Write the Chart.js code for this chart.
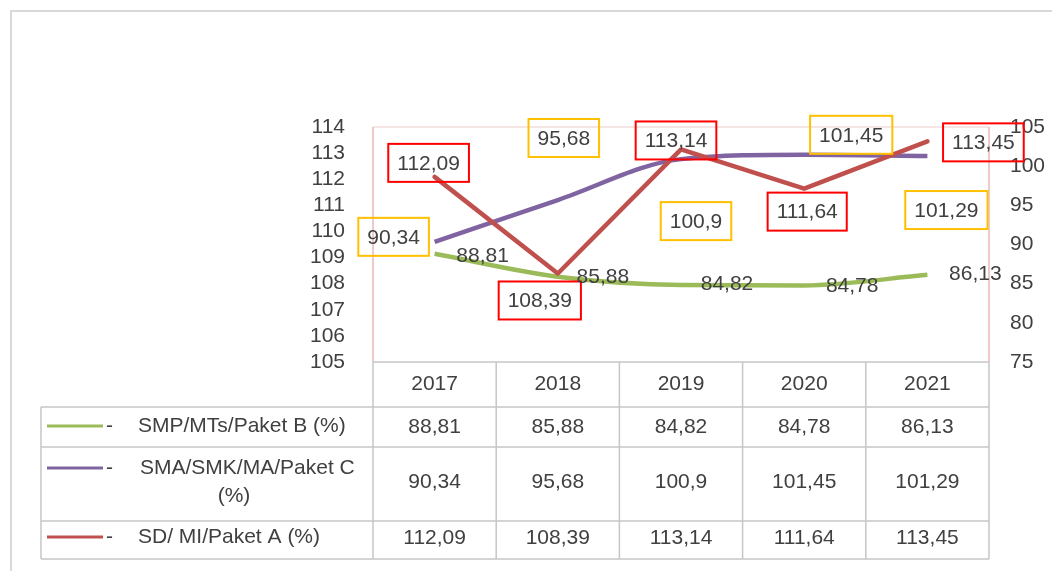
<!DOCTYPE html>
<html>
<head>
<meta charset="utf-8">
<script src="https://cdn.jsdelivr.net/npm/chart.js@4.4.0/dist/chart.umd.min.js"></script>
<style>
  html, body { margin: 0; padding: 0; background: #ffffff; }
  #wrap { width: 1052px; height: 571px; position: relative; }
</style>
</head>
<body>
<div id="wrap"><canvas id="c" width="1052" height="571"></canvas></div>
<script>
// ---- data ----
const years = ['2017', '2018', '2019', '2020', '2021'];
const smpValues = [88.81, 85.88, 84.82, 84.78, 86.13];      // SMP/MTs/Paket B (%)  - right axis
const smaValues = [90.34, 95.68, 100.9, 101.45, 101.29];    // SMA/SMK/MA/Paket C (%) - right axis
const sdValues  = [112.09, 108.39, 113.14, 111.64, 113.45]; // SD/MI/Paket A (%)  - left axis
const smpLabel = 'SMP/MTs/Paket B (%)';
const smaLabel = ['SMA/SMK/MA/Paket C', '(%)'];
const sdLabel  = 'SD/ MI/Paket A (%)';
const leftTicks  = { min: 105, max: 114, step: 1 };
const rightTicks = { min: 75, max: 105, step: 5 };

const fmt = v => String(v).replace('.', ',');
const FONT = '"Liberation Sans", Arial, sans-serif';
const TXT = '#404040';

const COLORS = { sd: '#C0504D', sma: '#8064A2', smp: '#9BBB59' };

// label placement (offset of label centre from point, px) and box style
const labelStyle = {
  sd:  { box: '#FF0000', off: [[-6,-14],[-18,27],[-5,-9],[3,23],[56,1]] },
  sma: { box: '#FFC000', off: [[-41,-5],[6,-62],[15,62],[47,-20],[19,54]] },
  smp: { box: null,      off: [[48,1],[45,-1],[46,-2],[48,0],[48,-2]] }
};

const labelPlugin = {
  id: 'boxLabels',
  afterDatasetsDraw(chart) {
    const ctx = chart.ctx;
    ctx.save();
    ctx.font = '21px ' + FONT;
    ctx.textAlign = 'center';
    ctx.textBaseline = 'middle';
    chart.data.datasets.forEach((ds, i) => {
      const st = labelStyle[ds.key];
      const meta = chart.getDatasetMeta(i);
      meta.data.forEach((pt, j) => {
        const txt = fmt(ds.data[j]);
        const cx = pt.x + st.off[j][0];
        const cy = pt.y + st.off[j][1];
        if (st.box) {
          const w = ctx.measureText(txt).width + 18;
          const h = 38;
          ctx.strokeStyle = st.box;
          ctx.lineWidth = 2;
          ctx.strokeRect(cx - w/2, cy - h/2, w, h);
        }
        ctx.fillStyle = TXT;
        ctx.fillText(txt, cx, cy + 1);
      });
    });
    ctx.restore();
  }
};

const framePlugin = {
  id: 'frameAndTable',
  beforeDraw(chart) {
    const ctx = chart.ctx;
    const a = chart.chartArea;
    ctx.save();
    ctx.fillStyle = '#ffffff';
    ctx.fillRect(0, 0, chart.width, chart.height);
    // outer frame
    ctx.strokeStyle = '#d9d9d9';
    ctx.lineWidth = 2;
    ctx.beginPath();
    ctx.moveTo(11, chart.height + 2);
    ctx.lineTo(11, 11);
    ctx.lineTo(chart.width + 2, 11);
    ctx.stroke();
    // plot area border
    ctx.lineWidth = 1.5;
    ctx.strokeStyle = '#f2dcdc';
    ctx.beginPath();
    ctx.moveTo(a.left, a.top); ctx.lineTo(a.right, a.top);
    ctx.stroke();
    ctx.strokeStyle = '#e9b9b9';
    ctx.beginPath();
    ctx.moveTo(a.left, a.top); ctx.lineTo(a.left, a.bottom);
    ctx.moveTo(a.right, a.top); ctx.lineTo(a.right, a.bottom);
    ctx.stroke();
    ctx.restore();
  },
  afterDraw(chart) {
    const ctx = chart.ctx;
    const a = chart.chartArea;
    const xs = chart.scales.x;
    const half = (xs.getPixelForValue(1) - xs.getPixelForValue(0)) / 2;
    const edges = [];
    for (let i = 0; i < years.length; i++) edges.push(xs.getPixelForValue(i) - half);
    edges.push(xs.getPixelForValue(years.length - 1) + half);
    const tLeft = 41;
    const rows = [a.bottom, 407, 447, 521, 559];
    ctx.save();
    ctx.strokeStyle = '#c6c6c6';
    ctx.lineWidth = 1.5;
    ctx.beginPath();
    ctx.moveTo(edges[0], rows[0]); ctx.lineTo(edges[edges.length-1], rows[0]);
    for (let r = 1; r < rows.length; r++) {
      ctx.moveTo(tLeft, rows[r]); ctx.lineTo(edges[edges.length-1], rows[r]);
    }
    edges.forEach(e => { ctx.moveTo(e, rows[0]); ctx.lineTo(e, rows[rows.length-1]); });
    ctx.moveTo(tLeft, rows[1]); ctx.lineTo(tLeft, rows[rows.length-1]);
    ctx.stroke();

    ctx.fillStyle = TXT;
    ctx.font = '21px ' + FONT;
    ctx.textAlign = 'center';
    ctx.textBaseline = 'middle';
    years.forEach((y, i) => ctx.fillText(y, xs.getPixelForValue(i), (rows[0] + rows[1]) / 2));
    const tableRows = [
      { vals: smpValues, color: COLORS.smp, label: [smpLabel], cy: 427 },
      { vals: smaValues, color: COLORS.sma, label: smaLabel, cy: 482 },
      { vals: sdValues,  color: COLORS.sd,  label: [sdLabel], cy: 538 }
    ];
    tableRows.forEach(tr => {
      tr.vals.forEach((v, i) => {
        ctx.fillStyle = TXT;
        ctx.textAlign = 'center';
        ctx.fillText(fmt(v), xs.getPixelForValue(i), tr.cy);
      });
      const ky = (tr.label.length > 1) ? 468 : tr.cy - 1;
      ctx.strokeStyle = tr.color;
      ctx.lineWidth = 3;
      ctx.beginPath();
      ctx.moveTo(47, ky); ctx.lineTo(103, ky);
      ctx.stroke();
      ctx.fillStyle = TXT;
      ctx.textAlign = 'left';
      ctx.fillText('-', 106, ky);
      if (tr.label.length > 1) {
        ctx.fillText(tr.label[0], 140, 468);
        ctx.textAlign = 'center';
        ctx.fillText(tr.label[1], 234, 496);
      } else {
        ctx.fillText(tr.label[0], 138, tr.cy - 1);
      }
    });
    ctx.restore();
  }
};

const chart = new Chart(document.getElementById('c'), {
  type: 'line',
  data: {
    labels: years,
    datasets: [
      { key: 'sd',  label: sdLabel,  data: sdValues,  yAxisID: 'y',  borderColor: COLORS.sd,
        borderWidth: 4.5, tension: 0, borderCapStyle: 'round', borderJoinStyle: 'round', pointRadius: 0 },
      { key: 'sma', label: smaLabel.join(' '), data: smaValues, yAxisID: 'y1', borderColor: COLORS.sma,
        borderWidth: 4.5, cubicInterpolationMode: 'monotone', borderCapStyle: 'butt', pointRadius: 0 },
      { key: 'smp', label: smpLabel, data: smpValues, yAxisID: 'y1', borderColor: COLORS.smp,
        borderWidth: 4.5, cubicInterpolationMode: 'monotone', borderCapStyle: 'butt', pointRadius: 0 }
    ]
  },
  options: {
    responsive: false,
    animation: false,
    devicePixelRatio: 1,
    layout: { padding: { top: 127, bottom: 209, left: 0, right: 0 } },
    plugins: { legend: { display: false }, tooltip: { enabled: false }, title: { display: false } },
    scales: {
      x: { display: false, offset: true, grid: { display: false } },
      y: {
        position: 'left', min: leftTicks.min, max: leftTicks.max,
        ticks: { stepSize: leftTicks.step, autoSkip: false, color: TXT, font: { family: FONT, size: 21 }, padding: 28 },
        grid: { display: false, drawTicks: false }, border: { display: false },
        afterFit(s) { s.width = 373; s.paddingTop = 0; s.paddingBottom = 0; }
      },
      y1: {
        position: 'right', min: rightTicks.min, max: rightTicks.max, z: 1,
        ticks: { stepSize: rightTicks.step, autoSkip: false, color: TXT, font: { family: FONT, size: 21 }, padding: 21 },
        grid: { display: false, drawTicks: false }, border: { display: false },
        afterFit(s) { s.width = 63; s.paddingTop = 0; s.paddingBottom = 0; }
      }
    }
  },
  plugins: [framePlugin, labelPlugin]
});
</script>
</body>
</html>
